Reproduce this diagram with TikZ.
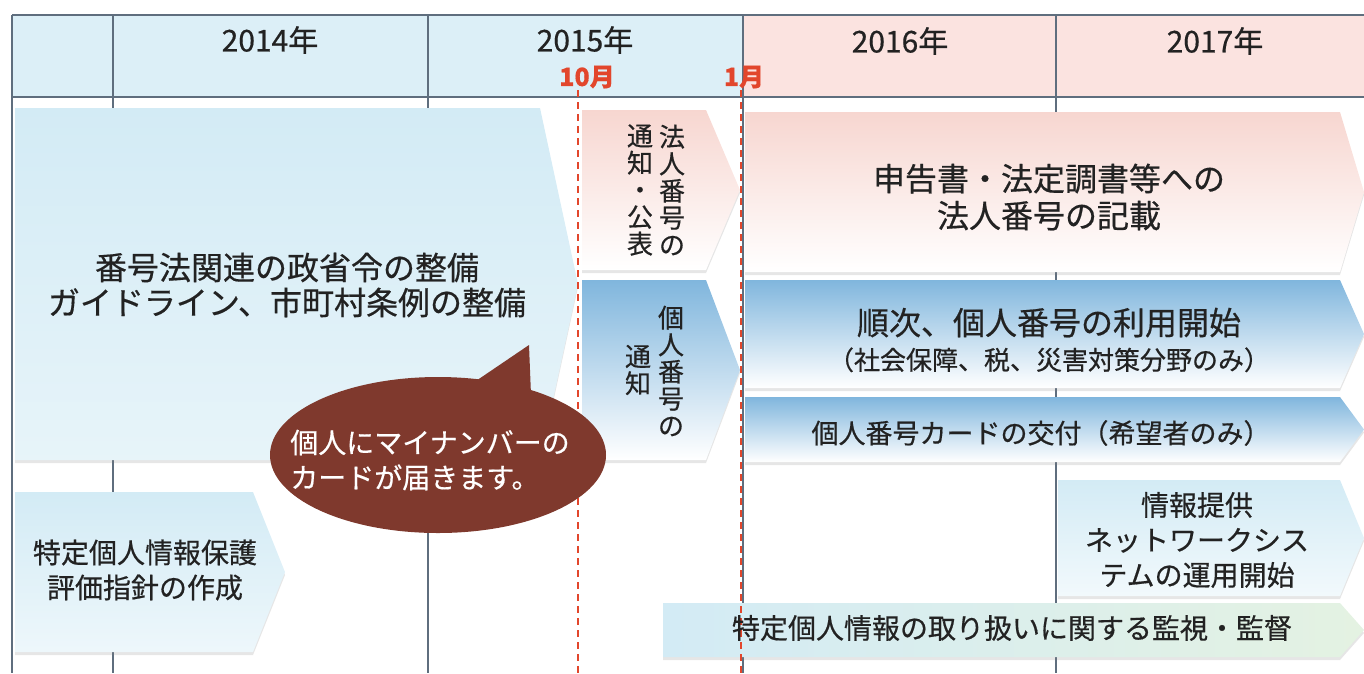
\documentclass[tikz,border=0pt]{standalone}
\usepackage{fontspec}
\setmainfont{Noto Sans CJK JP}[FakeBold=0.5]
\usepackage{tikz}
\usetikzlibrary{shadows}
\definecolor{gridline}{HTML}{5F6E7E}
\definecolor{headblue}{HTML}{DCEFF7}
\definecolor{headpink}{HTML}{FBE3E0}
\definecolor{paleblue}{HTML}{D3EBF5}
\definecolor{midblue}{HTML}{80B6DD}
\definecolor{palepink}{HTML}{F7D6D0}
\definecolor{palegreen}{HTML}{E4F2E2}
\definecolor{monthred}{HTML}{E2462C}
\definecolor{bubble}{HTML}{7F392D}
\definecolor{ink}{HTML}{222222}

% arrow-shaped bar: style, left, top, right, bottom, tip depth
\newcommand{\chevron}[6]{\path[#1] (#2,#3) -- (#4,#3) -- ({#4+#6},{(#3+#5)/2}) -- (#4,#5) -- (#2,#5) -- cycle;}

\begin{document}
\begin{tikzpicture}[x=1pt,y=-1pt,
	rule/.style={draw=gridline,line width=1.4pt},
	year/.style={text=ink,font=\fontsize{30}{34}\selectfont},
	month/.style={text=monthred,font=\bfseries\fontsize{25}{28}\selectfont},
	cut/.style={draw=monthred,line width=1.3pt,dash pattern=on 7pt off 5pt},
	bar/.style={drop shadow={opacity=.2,shadow xshift=0pt,shadow yshift=-3pt}},
	bluebar/.style={bar,top color=midblue,middle color=midblue!12!white,bottom color=white},
	pinkbar/.style={bar,top color=palepink,bottom color=white},
	txt/.style={align=center,text=ink,font=\fontsize{28}{35}\selectfont},
	big/.style={txt,font=\fontsize{32}{35}\selectfont},
	vert/.style={align=center,text=ink,inner sep=0pt,font=\fontsize{26}{27}\selectfont}]
	\useasboundingbox (0,0) rectangle (1364,673);
	% header row and year columns
	\fill[headblue] (12,15) rectangle (743,97);
	\fill[headpink] (743,15) rectangle (1364,97);
	\draw[rule] (12,15) -- (1364,15) (12,97) -- (1364,97);
	\foreach \x in {12,113,428,743,1056} \draw[rule] (\x,15) -- (\x,673);
	\node[year] (y2014) at (270,40) {2014年};
	\node[year] (y2015) at (585,40) {2015年};
	\node[year] (y2016) at (900,41) {2016年};
	\node[year] (y2017) at (1215,41) {2017年};
	\node[month] (oct) at (587,77) {10月};
	\node[month] (jan) at (744,77) {1月};
	% bars
	\chevron{bar,top color=paleblue,bottom color=paleblue!55!white}{15}{108}{540}{460}{38}
	\chevron{pinkbar}{582}{110}{706}{270}{34}
	\chevron{bluebar}{582}{280}{706}{460}{34}
	\chevron{pinkbar}{745}{112}{1340}{272}{24}
	\chevron{bluebar}{745}{280}{1340}{388}{24}
	\chevron{bluebar}{745}{397}{1340}{462}{24}
	\chevron{bar,top color=paleblue,bottom color=paleblue!30!white}{1058}{480}{1340}{596}{24}
	\chevron{bar,left color=paleblue,right color=palegreen}{663}{603}{1340}{657}{24}
	\chevron{bar,top color=paleblue,bottom color=paleblue!40!white}{15}{492}{253}{652}{32}
	% month markers
	\coordinate (octtop) at (578,90); \coordinate (octbot) at (578,673);
	\coordinate (jantop) at (741,90); \coordinate (janbot) at (741,673);
	\draw[cut] (octtop) -- (octbot);
	\draw[cut] (jantop) -- (janbot);
	% texts
	\node[big] (law) at (287,285) {番号法関連の政省令の整備\\ガイドライン、市町村条例の整備};
	\node[vert] (hojin) at (672,190) {法\\人\\番\\号\\の};
	\node[vert] (koho) at (640,190) {通\\知\\・\\公\\表};
	\node[vert] (kojin) at (671,371) {個\\人\\番\\号\\の};
	\node[vert] (kojintsuchi) at (638,370) {通\\知};
	\node[big,font=\fontsize{32}{37}\selectfont] (corp) at (1049,197) {申告書・法定調書等への\\法人番号の記載};
	\node[big] (use) at (1049,340) {順次、個人番号の利用開始\\{\fontsize{26}{30}\selectfont （社会保障、税、災害対策分野のみ）}};
	\node[txt,font=\fontsize{27}{32}\selectfont] (card) at (1041,433) {個人番号カードの交付（希望者のみ）};
	\node[txt] (net) at (1197,540) {情報提供\\ネットワークシス\\テムの運用開始};
	\node[txt] (watch) at (1012,628) {特定個人情報の取り扱いに関する監視・監督};
	\node[txt] (pia) at (145,570) {特定個人情報保護\\評価指針の作成};
	% speech bubble
	\fill[bubble] (438,455) ellipse [x radius=168pt, y radius=78pt];
	\fill[bubble] (470,385) -- (529,345) -- (531,395) -- cycle;
	\node[txt,text=white,align=left] (mail) at (430,460) {個人にマイナンバーの\\カードが届きます。};
\end{tikzpicture}
\end{document}
